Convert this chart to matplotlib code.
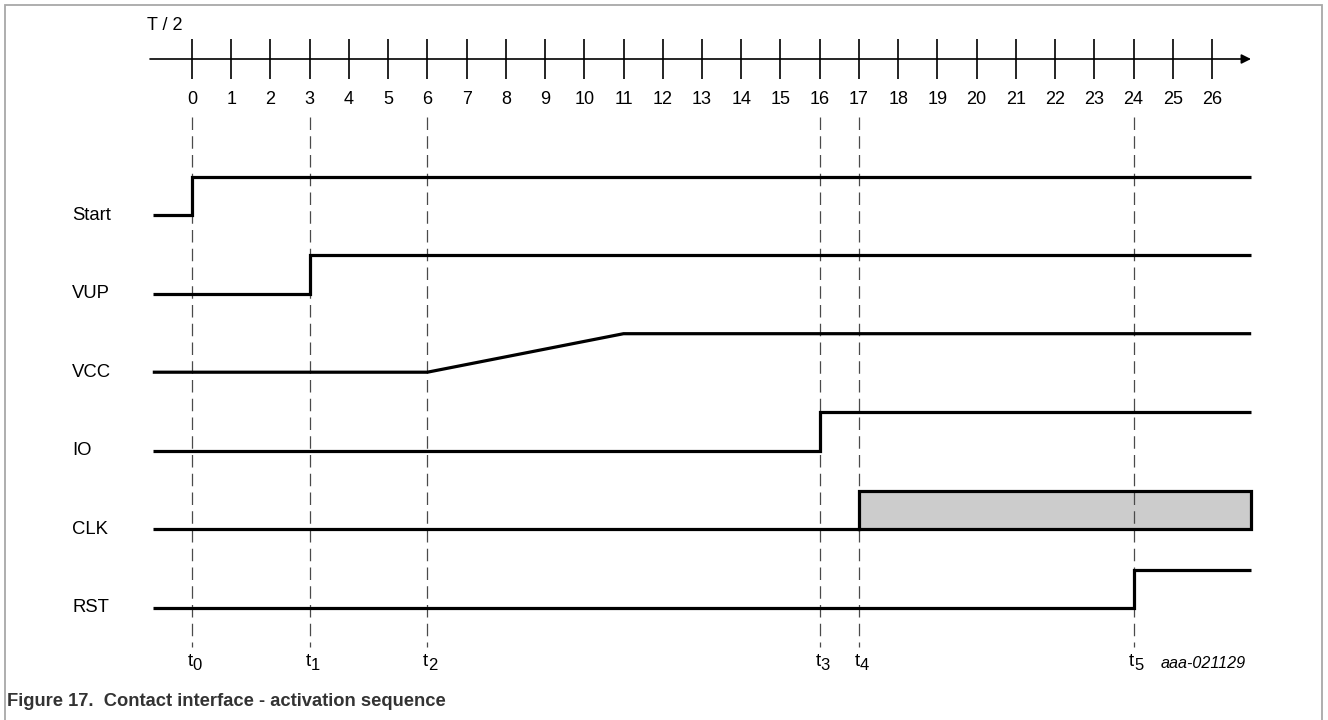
import matplotlib
matplotlib.use("Agg")
import matplotlib.pyplot as plt
from matplotlib.patches import Rectangle

plt.rcParams['font.family'] = ['Liberation Sans', 'DejaVu Sans']
plt.rcParams['lines.scale_dashes'] = False

# ---------------- data ----------------
axis_label = "T / 2"
ticks = list(range(0, 27))
signal_names = ["Start", "VUP", "VCC", "IO", "CLK", "RST"]
start_t = [-1, 0, 0, 27]
start_v = [0, 0, 1, 1]
vup_t = [-1, 3, 3, 27]
vup_v = [0, 0, 1, 1]
vcc_t = [-1, 6, 11, 27]
vcc_v = [0, 0, 1, 1]
io_t = [-1, 16, 16, 27]
io_v = [0, 0, 1, 1]
clk_t = [-1, 17]
clk_v = [0, 0]
clk_active = [17, 27]
rst_t = [-1, 24, 24, 27]
rst_v = [0, 0, 1, 1]
marker_times = [0, 3, 6, 16, 17, 24]
marker_base = "t"
marker_subs = ["0", "1", "2", "3", "4", "5"]
caption = "Figure 17.  Contact interface - activation sequence"
code_label = "aaa-021129"

# ---------------- layout ----------------
W, H = 1328, 720
X0, UNIT = 192.0, 39.23  # pixel of t=0, pixels per T/2


def px2t(px):
    return (px - X0) / UNIT


fig = plt.figure(figsize=(W / 100, H / 100), dpi=100)
ax = fig.add_axes([0, 0, 1, 1])
ax.set_xlim(px2t(0), px2t(W))
ax.set_ylim(H, 0)
ax.axis('off')

# border
fig.patches.append(Rectangle((5 / W, -0.05), (1322 - 5) / W, 1.05 - 5 / H,
                             transform=fig.transFigure, fill=False,
                             edgecolor='#a8a8a8', lw=1.3))

# time axis
AXY = 59
ax.annotate("", xy=(px2t(1251), AXY), xytext=(px2t(150), AXY),
            arrowprops=dict(arrowstyle='-|>', lw=1.2, color='black',
                            mutation_scale=14, shrinkA=0, shrinkB=0))
ax.vlines(ticks, 39, 79, colors='black', lw=1.2)
for t in ticks:
    ax.text(t, 99, str(t), ha='center', va='center', fontsize=13)
ax.text(px2t(147), 25, axis_label, ha='left', va='center', fontsize=13)

# dashed markers
ax.vlines(marker_times, 117, 647, colors='#4a4a4a', lw=0.9,
          linestyles=(0, (9, 4.5)))
for t, sub in zip(marker_times, marker_subs):
    ax.text(t + 0.02, 661, marker_base, ha='right', va='center', fontsize=13.5)
    ax.text(t + 0.02, 666, sub, ha='left', va='center', fontsize=12)

# signals
BASE0, STEP, AMP = 215.0, 78.6, 38.5
series = [(start_t, start_v), (vup_t, vup_v), (vcc_t, vcc_v),
          (io_t, io_v), (clk_t, clk_v), (rst_t, rst_v)]
SLW = 2.3
for i, (name, (ts, vs)) in enumerate(zip(signal_names, series)):
    base = BASE0 + i * STEP
    ax.plot(ts, [base - v * AMP for v in vs], color='black', lw=SLW,
            solid_joinstyle='miter', solid_capstyle='butt')
    ax.text(px2t(72), base, name, ha='left', va='center', fontsize=13.3)

# CLK active region
clk_base = BASE0 + 4 * STEP
ax.fill_between(clk_active, clk_base, clk_base - AMP, color='#cccccc', lw=0)
ax.plot([clk_active[0], clk_active[0], clk_active[1], clk_active[1], clk_active[0]],
        [clk_base, clk_base - AMP, clk_base - AMP, clk_base, clk_base],
        color='black', lw=SLW, solid_joinstyle='miter')

# labels
ax.text(px2t(1246), 663, code_label, ha='right', va='center', fontsize=11.6,
        style='italic')
fig.text(7 / W, 1 - 701 / H, caption, ha='left', va='center', fontsize=13.2,
         fontweight='bold', color='#333333')

fig.savefig("out.png", dpi=100)
